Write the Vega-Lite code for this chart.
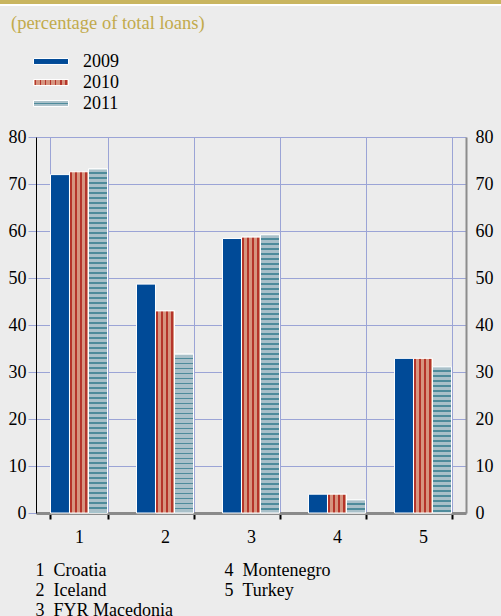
{
"$schema":"https://vega.github.io/schema/vega-lite/v6.json",
"width":430,"height":376,
"autosize":{"type":"none"},
"padding":{"left":36,"top":137,"right":35,"bottom":103},
"background":"#ececec",
"config":{"view":{"stroke":null},"font":"Liberation Serif",
 "axis":{"labelFont":"Liberation Serif","labelFontSize":18,"labelColor":"#000","titleFont":"Liberation Serif","titleFontSize":18,"titleFontWeight":"normal","titleColor":"#000"},
 "legend":{"labelFont":"Liberation Serif","labelFontSize":18,"labelColor":"#000","titleFont":"Liberation Serif"}},
"params":[
 {"name":"g10","value":{"gradient":"linear","x1":0,"y1":0,"x2":1,"y2":0,"stops":[{"offset":0,"color":"#d69580"},{"offset":0.052,"color":"#d69580"},{"offset":0.052,"color":"#b5342a"},{"offset":0.107,"color":"#b5342a"},{"offset":0.107,"color":"#d69580"},{"offset":0.315,"color":"#d69580"},{"offset":0.315,"color":"#b5342a"},{"offset":0.37,"color":"#b5342a"},{"offset":0.37,"color":"#d69580"},{"offset":0.578,"color":"#d69580"},{"offset":0.578,"color":"#b5342a"},{"offset":0.633,"color":"#b5342a"},{"offset":0.633,"color":"#d69580"},{"offset":0.841,"color":"#d69580"},{"offset":0.841,"color":"#b5342a"},{"offset":0.896,"color":"#b5342a"},{"offset":0.896,"color":"#d69580"},{"offset":1,"color":"#d69580"}]}},
 {"name":"g10leg","value":{"gradient":"linear","x1":0,"y1":0,"x2":1,"y2":0,"stops":[{"offset":0,"color":"#d69580"},{"offset":0.05,"color":"#d69580"},{"offset":0.05,"color":"#b5342a"},{"offset":0.085,"color":"#b5342a"},{"offset":0.085,"color":"#d69580"},{"offset":0.193,"color":"#d69580"},{"offset":0.193,"color":"#b5342a"},{"offset":0.228,"color":"#b5342a"},{"offset":0.228,"color":"#d69580"},{"offset":0.336,"color":"#d69580"},{"offset":0.336,"color":"#b5342a"},{"offset":0.371,"color":"#b5342a"},{"offset":0.371,"color":"#d69580"},{"offset":0.479,"color":"#d69580"},{"offset":0.479,"color":"#b5342a"},{"offset":0.514,"color":"#b5342a"},{"offset":0.514,"color":"#d69580"},{"offset":0.622,"color":"#d69580"},{"offset":0.622,"color":"#b5342a"},{"offset":0.657,"color":"#b5342a"},{"offset":0.657,"color":"#d69580"},{"offset":0.765,"color":"#d69580"},{"offset":0.765,"color":"#b5342a"},{"offset":0.8,"color":"#b5342a"},{"offset":0.8,"color":"#d69580"},{"offset":0.908,"color":"#d69580"},{"offset":0.908,"color":"#b5342a"},{"offset":0.943,"color":"#b5342a"},{"offset":0.943,"color":"#d69580"},{"offset":1,"color":"#d69580"}]}},
 {"name":"g11leg","value":{"gradient":"linear","x1":0,"y1":0,"x2":0,"y2":1,"stops":[{"offset":0,"color":"#a9c0c9"},{"offset":0.4,"color":"#a9c0c9"},{"offset":0.4,"color":"#4e8b9b"},{"offset":0.6,"color":"#4e8b9b"},{"offset":0.6,"color":"#a9c0c9"},{"offset":1,"color":"#a9c0c9"}]}},
 {"name":"s11","value":[
{"offset":0,"color":"#a9c0c9"},{"offset":0.01,"color":"#a9c0c9"},{"offset":0.01,"color":"#4e8b9b"},{"offset":0.0143,"color":"#4e8b9b"},
{"offset":0.0143,"color":"#a9c0c9"},{"offset":0.0243,"color":"#a9c0c9"},{"offset":0.0243,"color":"#4e8b9b"},{"offset":0.0286,"color":"#4e8b9b"},
{"offset":0.0286,"color":"#a9c0c9"},{"offset":0.0386,"color":"#a9c0c9"},{"offset":0.0386,"color":"#4e8b9b"},{"offset":0.0429,"color":"#4e8b9b"},
{"offset":0.0429,"color":"#a9c0c9"},{"offset":0.0529,"color":"#a9c0c9"},{"offset":0.0529,"color":"#4e8b9b"},{"offset":0.0571,"color":"#4e8b9b"},
{"offset":0.0571,"color":"#a9c0c9"},{"offset":0.0671,"color":"#a9c0c9"},{"offset":0.0671,"color":"#4e8b9b"},{"offset":0.0714,"color":"#4e8b9b"},
{"offset":0.0714,"color":"#a9c0c9"},{"offset":0.0814,"color":"#a9c0c9"},{"offset":0.0814,"color":"#4e8b9b"},{"offset":0.0857,"color":"#4e8b9b"},
{"offset":0.0857,"color":"#a9c0c9"},{"offset":0.0957,"color":"#a9c0c9"},{"offset":0.0957,"color":"#4e8b9b"},{"offset":0.1,"color":"#4e8b9b"},
{"offset":0.1,"color":"#a9c0c9"},{"offset":0.11,"color":"#a9c0c9"},{"offset":0.11,"color":"#4e8b9b"},{"offset":0.1143,"color":"#4e8b9b"},
{"offset":0.1143,"color":"#a9c0c9"},{"offset":0.1243,"color":"#a9c0c9"},{"offset":0.1243,"color":"#4e8b9b"},{"offset":0.1286,"color":"#4e8b9b"},
{"offset":0.1286,"color":"#a9c0c9"},{"offset":0.1386,"color":"#a9c0c9"},{"offset":0.1386,"color":"#4e8b9b"},{"offset":0.1429,"color":"#4e8b9b"},
{"offset":0.1429,"color":"#a9c0c9"},{"offset":0.1529,"color":"#a9c0c9"},{"offset":0.1529,"color":"#4e8b9b"},{"offset":0.1571,"color":"#4e8b9b"},
{"offset":0.1571,"color":"#a9c0c9"},{"offset":0.1671,"color":"#a9c0c9"},{"offset":0.1671,"color":"#4e8b9b"},{"offset":0.1714,"color":"#4e8b9b"},
{"offset":0.1714,"color":"#a9c0c9"},{"offset":0.1814,"color":"#a9c0c9"},{"offset":0.1814,"color":"#4e8b9b"},{"offset":0.1857,"color":"#4e8b9b"},
{"offset":0.1857,"color":"#a9c0c9"},{"offset":0.1957,"color":"#a9c0c9"},{"offset":0.1957,"color":"#4e8b9b"},{"offset":0.2,"color":"#4e8b9b"},
{"offset":0.2,"color":"#a9c0c9"},{"offset":0.21,"color":"#a9c0c9"},{"offset":0.21,"color":"#4e8b9b"},{"offset":0.2143,"color":"#4e8b9b"},
{"offset":0.2143,"color":"#a9c0c9"},{"offset":0.2243,"color":"#a9c0c9"},{"offset":0.2243,"color":"#4e8b9b"},{"offset":0.2286,"color":"#4e8b9b"},
{"offset":0.2286,"color":"#a9c0c9"},{"offset":0.2386,"color":"#a9c0c9"},{"offset":0.2386,"color":"#4e8b9b"},{"offset":0.2429,"color":"#4e8b9b"},
{"offset":0.2429,"color":"#a9c0c9"},{"offset":0.2529,"color":"#a9c0c9"},{"offset":0.2529,"color":"#4e8b9b"},{"offset":0.2571,"color":"#4e8b9b"},
{"offset":0.2571,"color":"#a9c0c9"},{"offset":0.2671,"color":"#a9c0c9"},{"offset":0.2671,"color":"#4e8b9b"},{"offset":0.2714,"color":"#4e8b9b"},
{"offset":0.2714,"color":"#a9c0c9"},{"offset":0.2814,"color":"#a9c0c9"},{"offset":0.2814,"color":"#4e8b9b"},{"offset":0.2857,"color":"#4e8b9b"},
{"offset":0.2857,"color":"#a9c0c9"},{"offset":0.2957,"color":"#a9c0c9"},{"offset":0.2957,"color":"#4e8b9b"},{"offset":0.3,"color":"#4e8b9b"},
{"offset":0.3,"color":"#a9c0c9"},{"offset":0.31,"color":"#a9c0c9"},{"offset":0.31,"color":"#4e8b9b"},{"offset":0.3143,"color":"#4e8b9b"},
{"offset":0.3143,"color":"#a9c0c9"},{"offset":0.3243,"color":"#a9c0c9"},{"offset":0.3243,"color":"#4e8b9b"},{"offset":0.3286,"color":"#4e8b9b"},
{"offset":0.3286,"color":"#a9c0c9"},{"offset":0.3386,"color":"#a9c0c9"},{"offset":0.3386,"color":"#4e8b9b"},{"offset":0.3429,"color":"#4e8b9b"},
{"offset":0.3429,"color":"#a9c0c9"},{"offset":0.3529,"color":"#a9c0c9"},{"offset":0.3529,"color":"#4e8b9b"},{"offset":0.3571,"color":"#4e8b9b"},
{"offset":0.3571,"color":"#a9c0c9"},{"offset":0.3671,"color":"#a9c0c9"},{"offset":0.3671,"color":"#4e8b9b"},{"offset":0.3714,"color":"#4e8b9b"},
{"offset":0.3714,"color":"#a9c0c9"},{"offset":0.3814,"color":"#a9c0c9"},{"offset":0.3814,"color":"#4e8b9b"},{"offset":0.3857,"color":"#4e8b9b"},
{"offset":0.3857,"color":"#a9c0c9"},{"offset":0.3957,"color":"#a9c0c9"},{"offset":0.3957,"color":"#4e8b9b"},{"offset":0.4,"color":"#4e8b9b"},
{"offset":0.4,"color":"#a9c0c9"},{"offset":0.41,"color":"#a9c0c9"},{"offset":0.41,"color":"#4e8b9b"},{"offset":0.4143,"color":"#4e8b9b"},
{"offset":0.4143,"color":"#a9c0c9"},{"offset":0.4243,"color":"#a9c0c9"},{"offset":0.4243,"color":"#4e8b9b"},{"offset":0.4286,"color":"#4e8b9b"},
{"offset":0.4286,"color":"#a9c0c9"},{"offset":0.4386,"color":"#a9c0c9"},{"offset":0.4386,"color":"#4e8b9b"},{"offset":0.4429,"color":"#4e8b9b"},
{"offset":0.4429,"color":"#a9c0c9"},{"offset":0.4529,"color":"#a9c0c9"},{"offset":0.4529,"color":"#4e8b9b"},{"offset":0.4571,"color":"#4e8b9b"},
{"offset":0.4571,"color":"#a9c0c9"},{"offset":0.4671,"color":"#a9c0c9"},{"offset":0.4671,"color":"#4e8b9b"},{"offset":0.4714,"color":"#4e8b9b"},
{"offset":0.4714,"color":"#a9c0c9"},{"offset":0.4814,"color":"#a9c0c9"},{"offset":0.4814,"color":"#4e8b9b"},{"offset":0.4857,"color":"#4e8b9b"},
{"offset":0.4857,"color":"#a9c0c9"},{"offset":0.4957,"color":"#a9c0c9"},{"offset":0.4957,"color":"#4e8b9b"},{"offset":0.5,"color":"#4e8b9b"},
{"offset":0.5,"color":"#a9c0c9"},{"offset":0.51,"color":"#a9c0c9"},{"offset":0.51,"color":"#4e8b9b"},{"offset":0.5143,"color":"#4e8b9b"},
{"offset":0.5143,"color":"#a9c0c9"},{"offset":0.5243,"color":"#a9c0c9"},{"offset":0.5243,"color":"#4e8b9b"},{"offset":0.5286,"color":"#4e8b9b"},
{"offset":0.5286,"color":"#a9c0c9"},{"offset":0.5386,"color":"#a9c0c9"},{"offset":0.5386,"color":"#4e8b9b"},{"offset":0.5429,"color":"#4e8b9b"},
{"offset":0.5429,"color":"#a9c0c9"},{"offset":0.5529,"color":"#a9c0c9"},{"offset":0.5529,"color":"#4e8b9b"},{"offset":0.5571,"color":"#4e8b9b"},
{"offset":0.5571,"color":"#a9c0c9"},{"offset":0.5671,"color":"#a9c0c9"},{"offset":0.5671,"color":"#4e8b9b"},{"offset":0.5714,"color":"#4e8b9b"},
{"offset":0.5714,"color":"#a9c0c9"},{"offset":0.5814,"color":"#a9c0c9"},{"offset":0.5814,"color":"#4e8b9b"},{"offset":0.5857,"color":"#4e8b9b"},
{"offset":0.5857,"color":"#a9c0c9"},{"offset":0.5957,"color":"#a9c0c9"},{"offset":0.5957,"color":"#4e8b9b"},{"offset":0.6,"color":"#4e8b9b"},
{"offset":0.6,"color":"#a9c0c9"},{"offset":0.61,"color":"#a9c0c9"},{"offset":0.61,"color":"#4e8b9b"},{"offset":0.6143,"color":"#4e8b9b"},
{"offset":0.6143,"color":"#a9c0c9"},{"offset":0.6243,"color":"#a9c0c9"},{"offset":0.6243,"color":"#4e8b9b"},{"offset":0.6286,"color":"#4e8b9b"},
{"offset":0.6286,"color":"#a9c0c9"},{"offset":0.6386,"color":"#a9c0c9"},{"offset":0.6386,"color":"#4e8b9b"},{"offset":0.6429,"color":"#4e8b9b"},
{"offset":0.6429,"color":"#a9c0c9"},{"offset":0.6529,"color":"#a9c0c9"},{"offset":0.6529,"color":"#4e8b9b"},{"offset":0.6571,"color":"#4e8b9b"},
{"offset":0.6571,"color":"#a9c0c9"},{"offset":0.6671,"color":"#a9c0c9"},{"offset":0.6671,"color":"#4e8b9b"},{"offset":0.6714,"color":"#4e8b9b"},
{"offset":0.6714,"color":"#a9c0c9"},{"offset":0.6814,"color":"#a9c0c9"},{"offset":0.6814,"color":"#4e8b9b"},{"offset":0.6857,"color":"#4e8b9b"},
{"offset":0.6857,"color":"#a9c0c9"},{"offset":0.6957,"color":"#a9c0c9"},{"offset":0.6957,"color":"#4e8b9b"},{"offset":0.7,"color":"#4e8b9b"},
{"offset":0.7,"color":"#a9c0c9"},{"offset":0.71,"color":"#a9c0c9"},{"offset":0.71,"color":"#4e8b9b"},{"offset":0.7143,"color":"#4e8b9b"},
{"offset":0.7143,"color":"#a9c0c9"},{"offset":0.7243,"color":"#a9c0c9"},{"offset":0.7243,"color":"#4e8b9b"},{"offset":0.7286,"color":"#4e8b9b"},
{"offset":0.7286,"color":"#a9c0c9"},{"offset":0.7386,"color":"#a9c0c9"},{"offset":0.7386,"color":"#4e8b9b"},{"offset":0.7429,"color":"#4e8b9b"},
{"offset":0.7429,"color":"#a9c0c9"},{"offset":0.7529,"color":"#a9c0c9"},{"offset":0.7529,"color":"#4e8b9b"},{"offset":0.7571,"color":"#4e8b9b"},
{"offset":0.7571,"color":"#a9c0c9"},{"offset":0.7671,"color":"#a9c0c9"},{"offset":0.7671,"color":"#4e8b9b"},{"offset":0.7714,"color":"#4e8b9b"},
{"offset":0.7714,"color":"#a9c0c9"},{"offset":0.7814,"color":"#a9c0c9"},{"offset":0.7814,"color":"#4e8b9b"},{"offset":0.7857,"color":"#4e8b9b"},
{"offset":0.7857,"color":"#a9c0c9"},{"offset":0.7957,"color":"#a9c0c9"},{"offset":0.7957,"color":"#4e8b9b"},{"offset":0.8,"color":"#4e8b9b"},
{"offset":0.8,"color":"#a9c0c9"},{"offset":0.81,"color":"#a9c0c9"},{"offset":0.81,"color":"#4e8b9b"},{"offset":0.8143,"color":"#4e8b9b"},
{"offset":0.8143,"color":"#a9c0c9"},{"offset":0.8243,"color":"#a9c0c9"},{"offset":0.8243,"color":"#4e8b9b"},{"offset":0.8286,"color":"#4e8b9b"},
{"offset":0.8286,"color":"#a9c0c9"},{"offset":0.8386,"color":"#a9c0c9"},{"offset":0.8386,"color":"#4e8b9b"},{"offset":0.8429,"color":"#4e8b9b"},
{"offset":0.8429,"color":"#a9c0c9"},{"offset":0.8529,"color":"#a9c0c9"},{"offset":0.8529,"color":"#4e8b9b"},{"offset":0.8571,"color":"#4e8b9b"},
{"offset":0.8571,"color":"#a9c0c9"},{"offset":0.8671,"color":"#a9c0c9"},{"offset":0.8671,"color":"#4e8b9b"},{"offset":0.8714,"color":"#4e8b9b"},
{"offset":0.8714,"color":"#a9c0c9"},{"offset":0.8814,"color":"#a9c0c9"},{"offset":0.8814,"color":"#4e8b9b"},{"offset":0.8857,"color":"#4e8b9b"},
{"offset":0.8857,"color":"#a9c0c9"},{"offset":0.8957,"color":"#a9c0c9"},{"offset":0.8957,"color":"#4e8b9b"},{"offset":0.9,"color":"#4e8b9b"},
{"offset":0.9,"color":"#a9c0c9"},{"offset":0.91,"color":"#a9c0c9"},{"offset":0.91,"color":"#4e8b9b"},{"offset":0.9143,"color":"#4e8b9b"},
{"offset":0.9143,"color":"#a9c0c9"},{"offset":0.9243,"color":"#a9c0c9"},{"offset":0.9243,"color":"#4e8b9b"},{"offset":0.9286,"color":"#4e8b9b"},
{"offset":0.9286,"color":"#a9c0c9"},{"offset":0.9386,"color":"#a9c0c9"},{"offset":0.9386,"color":"#4e8b9b"},{"offset":0.9429,"color":"#4e8b9b"},
{"offset":0.9429,"color":"#a9c0c9"},{"offset":0.9529,"color":"#a9c0c9"},{"offset":0.9529,"color":"#4e8b9b"},{"offset":0.9571,"color":"#4e8b9b"},
{"offset":0.9571,"color":"#a9c0c9"},{"offset":0.9671,"color":"#a9c0c9"},{"offset":0.9671,"color":"#4e8b9b"},{"offset":0.9714,"color":"#4e8b9b"},
{"offset":0.9714,"color":"#a9c0c9"},{"offset":0.9814,"color":"#a9c0c9"},{"offset":0.9814,"color":"#4e8b9b"},{"offset":0.9857,"color":"#4e8b9b"},
{"offset":0.9857,"color":"#a9c0c9"},{"offset":0.9957,"color":"#a9c0c9"},{"offset":0.9957,"color":"#4e8b9b"},{"offset":1,"color":"#4e8b9b"}
 ]}
],
"data":{"values":[
 {"c":"1","country":"Croatia","year":"2009","value":72.0},{"c":"1","country":"Croatia","year":"2010","value":72.6},{"c":"1","country":"Croatia","year":"2011","value":73.2},
 {"c":"2","country":"Iceland","year":"2009","value":48.7},{"c":"2","country":"Iceland","year":"2010","value":43.0},{"c":"2","country":"Iceland","year":"2011","value":33.8},
 {"c":"3","country":"FYR Macedonia","year":"2009","value":58.4},{"c":"3","country":"FYR Macedonia","year":"2010","value":58.7},{"c":"3","country":"FYR Macedonia","year":"2011","value":59.2},
 {"c":"4","country":"Montenegro","year":"2009","value":4.0},{"c":"4","country":"Montenegro","year":"2010","value":4.0},{"c":"4","country":"Montenegro","year":"2011","value":2.8},
 {"c":"5","country":"Turkey","year":"2009","value":32.9},{"c":"5","country":"Turkey","year":"2010","value":32.9},{"c":"5","country":"Turkey","year":"2011","value":31.1}
]},
"encoding":{
 "x":{"field":"c","type":"nominal","sort":null,"scale":{"paddingInner":0.337,"paddingOuter":0.1685},
  "axis":{"labelAngle":0,"tickBand":"extent","ticks":true,"tickColor":"#000","tickWidth":2,"tickSize":6,"domainColor":"#8a8a8a","domainWidth":3,"labelPadding":9,
   "grid":true,"gridColor":"#9ba4d6","gridWidth":1,
   "title":["1\u2002Croatia","2\u2002Iceland","3\u2002FYR Macedonia"],"titleX":-1,"titleY":62,"titleAlign":"left","titleAnchor":"start","titleBaseline":"alphabetic","titleLineHeight":20}},
 "xOffset":{"field":"year","type":"nominal","sort":null,"scale":{"domain":["2009","2010","2011"],"paddingInner":0,"paddingOuter":0}},
 "y":{"field":"value","type":"quantitative","scale":{"domain":[0,80],"nice":false},"axis":null}
},
"layer":[
 {"mark":{"type":"bar","stroke":"#ffffff","strokeWidth":1},
  "encoding":{
   "y":{"field":"value","type":"quantitative","scale":{"domain":[0,80],"nice":false},
    "axis":{"orient":"left","values":[0,10,20,30,40,50,60,70,80],"title":null,"domainColor":"#000","domainWidth":1,"tickColor":"#9ba4d6","tickSize":8,"tickWidth":1,"labelPadding":2,"grid":true,"gridColor":"#9ba4d6","gridWidth":1}},
   "color":{"field":"year","type":"nominal","scale":{"domain":["2009","2010","2011"],"range":["#004a97",{"expr":"g10leg"},{"expr":"g11leg"}]},
    "legend":{"orient":"none","legendX":-25,"legendY":-123,"direction":"vertical",
     "title":"(percentage of total loans)","titleColor":"#c2aa4b","titleFontSize":18.5,"titleFontWeight":"normal","titleLimit":400,"titlePadding":20,
     "symbolType":"M-1,-0.17H1V0.17H-1Z","symbolSize":1225,"symbolOffset":22,"labelOffset":14,"rowPadding":3,"clipHeight":18,
     "symbolStrokeColor":"#ffffff","symbolStrokeWidth":1,"symbolOpacity":1,"labelFontSize":18}},
   "stroke":{"field":"value","type":"quantitative","scale":{"range":["#ffffff","#ffffff"]},
    "legend":{"orient":"none","legendX":-37,"legendY":-138,"direction":"horizontal","title":null,"padding":0,
     "gradientLength":503,"gradientThickness":6,"gradientStrokeColor":"#ffffff","gradientStrokeWidth":2,
     "values":[],"labelExpr":"''","labelOpacity":0,
     "encode":{"gradient":{"update":{"fill":{"value":"#c9b55f"}}}}}}
  }},
 {"transform":[{"filter":"datum.year == '2010'"}],
  "mark":{"type":"bar","stroke":"#ffffff","strokeWidth":1,"fill":{"expr":"g10"}},
  "encoding":{
   "y":{"field":"value","type":"quantitative","scale":{"domain":[0,80],"nice":false},
    "axis":{"orient":"right","values":[0,10,20,30,40,50,60,70,80],"grid":false,"ticks":false,"tickSize":0,"domainColor":"#8c8c8c","domainWidth":2,"labelPadding":9,
     "title":["4\u2002Montenegro","5\u2002Turkey"],"titleAngle":0,"titleX":-242,"titleY":438,"titleAlign":"left","titleAnchor":"start","titleBaseline":"alphabetic","titleLineHeight":20}}
  }},
 {"transform":[{"filter":"datum.year == '2011'"}],
  "mark":{"type":"bar","stroke":"#ffffff","strokeWidth":1,"fill":{"expr":"{gradient: 'linear', x1: 0, y1: 0, x2: 0, y2: 74.47 / datum.value, stops: s11}"}}
 }
],
"resolve":{"axis":{"y":"independent"}}
}
